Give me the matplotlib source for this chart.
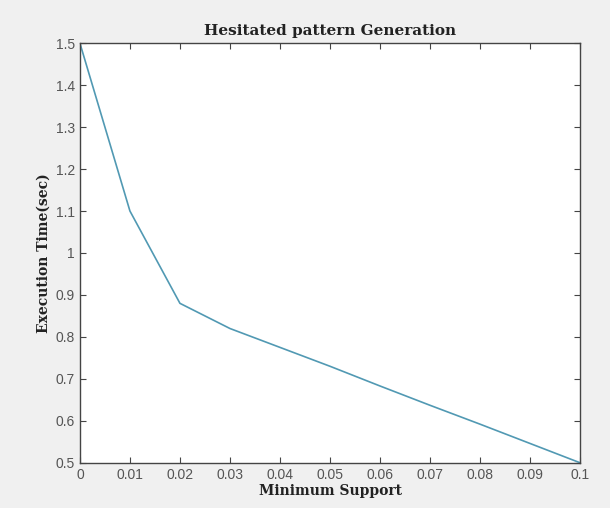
import numpy as np
import matplotlib
matplotlib.use("Agg")
import matplotlib.pyplot as plt

# データ
min_support = [0, 0.01, 0.02, 0.03, 0.04, 0.05, 0.06, 0.07, 0.08, 0.09, 0.1]
exec_time = [1.5, 1.1, 0.88, 0.82, 0.775, 0.73, 0.683, 0.637, 0.592, 0.546, 0.5]
x_ticks = [0, 0.01, 0.02, 0.03, 0.04, 0.05, 0.06, 0.07, 0.08, 0.09, 0.1]
x_tick_labels = ["0", "0.01", "0.02", "0.03", "0.04", "0.05", "0.06", "0.07", "0.08", "0.09", "0.1"]
y_ticks = [0.5, 0.6, 0.7, 0.8, 0.9, 1.0, 1.1, 1.2, 1.3, 1.4, 1.5]
y_tick_labels = ["0.5", "0.6", "0.7", "0.8", "0.9", "1", "1.1", "1.2", "1.3", "1.4", "1.5"]

fig = plt.figure(figsize=(6.10, 5.08), dpi=100, facecolor="#f0f0f0")
ax = fig.add_axes([0.131, 0.089, 0.820, 0.826])
ax.set_facecolor("white")

ax.plot(min_support, exec_time, color="#5199b3", linewidth=1.2)

ax.set_xlim(0, 0.1)
ax.set_ylim(0.5, 1.5)
ax.set_xticks(x_ticks)
ax.set_xticklabels(x_tick_labels, family="Liberation Sans", fontsize=10, color="#555555")
ax.set_yticks(y_ticks)
ax.set_yticklabels(y_tick_labels, family="Liberation Sans", fontsize=10, color="#555555")
ax.tick_params(direction="in", top=True, right=True, length=4, color="#444444")

for s in ax.spines.values():
    s.set_color("#444444")
    s.set_linewidth(1.0)

ax.set_title("Hesitated pattern Generation", family="DejaVu Serif", fontweight="bold",
             fontsize=11, color="#222222", pad=6)
ax.set_xlabel("Minimum Support", family="DejaVu Serif", fontweight="bold",
              fontsize=10, color="#222222", labelpad=2)
ax.set_ylabel("Execution Time(sec)", family="DejaVu Serif", fontweight="bold",
              fontsize=10, color="#222222", labelpad=4)

fig.savefig("out.png", dpi=100, facecolor=fig.get_facecolor())
